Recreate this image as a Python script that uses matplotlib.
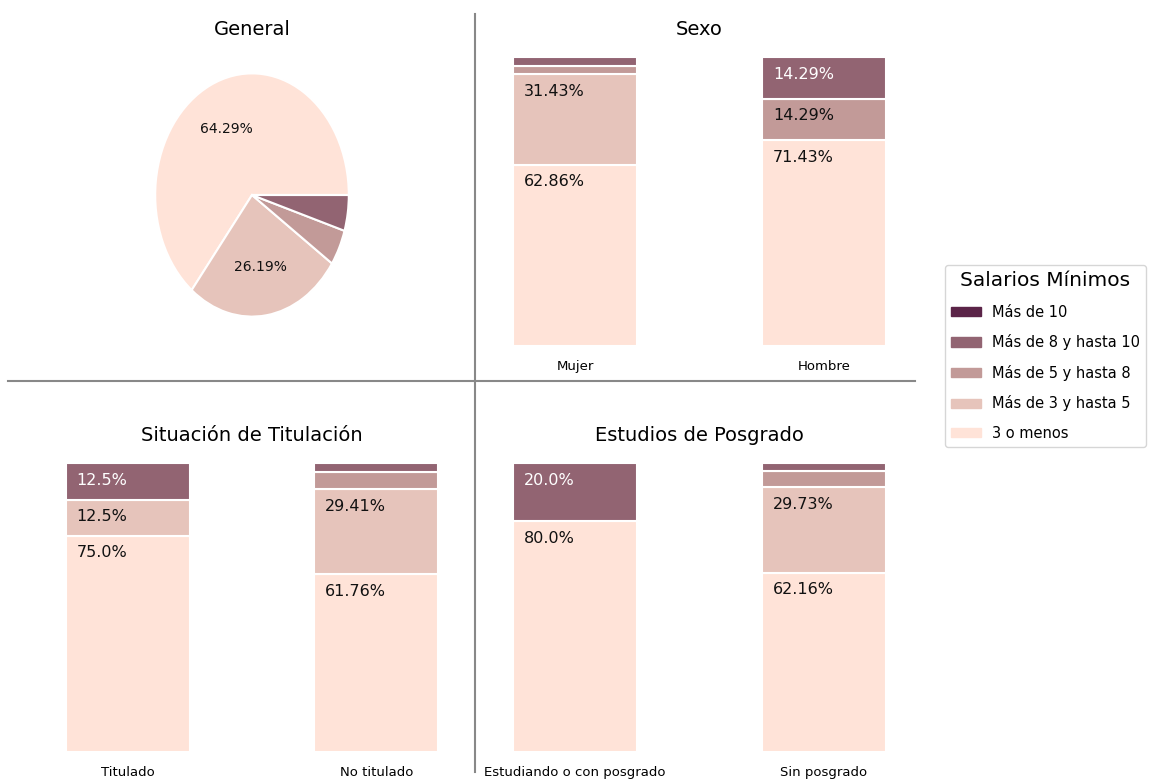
import matplotlib.pyplot as plt
from matplotlib.patches import Patch
from matplotlib.lines import Line2D
import numpy as np

# categorias de salario (de abajo hacia arriba en las barras)
categorias = ['3 o menos', 'Más de 3 y hasta 5', 'Más de 5 y hasta 8',
              'Más de 8 y hasta 10', 'Más de 10']
colores = ['#ffe3d8', '#e6c4bb', '#c29a98', '#926472', '#5b2448']

general = [64.29, 26.19, 4.76, 4.76, 0.0]

sexo_labels = ['Mujer', 'Hombre']
sexo_vals = [[62.86, 31.43, 2.86, 2.86, 0.0],
             [71.43, 0.0, 14.29, 14.29, 0.0]]

titulo_labels = ['Titulado', 'No titulado']
titulo_vals = [[75.0, 12.5, 0.0, 12.5, 0.0],
               [61.76, 29.41, 5.88, 2.94, 0.0]]

posgrado_labels = ['Estudiando o con posgrado', 'Sin posgrado']
posgrado_vals = [[80.0, 0.0, 0.0, 20.0, 0.0],
                 [62.16, 29.73, 5.41, 2.70, 0.0]]

W, H = 1153, 779
fig = plt.figure(figsize=(W / 100, H / 100), dpi=100)


def px(left, top, right, bottom):
    # caja en pixeles -> coordenadas de figura
    return [left / W, 1 - bottom / H, (right - left) / W, (bottom - top) / H]


def barras(ax, labels, vals, titulo):
    x = np.arange(len(labels))
    ancho = 0.5
    for i, serie in enumerate(vals):
        abajo = 0
        for j, v in enumerate(serie):
            if v > 0:
                ax.bar(x[i], v, ancho, bottom=abajo, color=colores[j],
                       edgecolor='white', linewidth=1.5)
                if v >= 10:
                    ax.annotate(f'{round(v, 2)}%', (x[i] - ancho / 2, abajo + v),
                                xytext=(8, -7), textcoords='offset points',
                                ha='left', va='top', fontsize=11.5,
                                color='white' if j >= 3 else '#111111')
            abajo += v
    ax.set_xlim(-0.325, 1.325)
    ax.set_ylim(0, 105)
    ax.set_xticks(x)
    ax.set_xticklabels(labels, fontsize=9.5)
    ax.tick_params(axis='x', length=0, pad=10)
    ax.set_yticks([])
    for s in ax.spines.values():
        s.set_visible(False)
    ax.set_title(titulo, fontsize=14)


# pastel general
ax0 = fig.add_axes(px(131, 43, 373, 347))
ax0.pie(general, colors=colores, startangle=0,
        autopct=lambda p: f'{p:.2f}%' if p > 10 else '',
        textprops={'fontsize': 10, 'color': '#111111'},
        wedgeprops={'edgecolor': 'white', 'linewidth': 1.5})
ax0.set_aspect('auto')
ax0.set_xlim(-1.25, 1.25)
ax0.set_ylim(-1.25, 1.25)
ax0.set_title('General', fontsize=14)

ax1 = fig.add_axes(px(494, 43, 905, 346))
barras(ax1, sexo_labels, sexo_vals, 'Sexo')

ax2 = fig.add_axes(px(47, 449, 457, 752))
barras(ax2, titulo_labels, titulo_vals, 'Situación de Titulación')

ax3 = fig.add_axes(px(494, 449, 905, 752))
barras(ax3, posgrado_labels, posgrado_vals, 'Estudios de Posgrado')

# lineas divisorias
fig.add_artist(Line2D([475 / W, 475 / W], [1 - 772 / H, 1 - 14 / H],
                      color='#888888', linewidth=1.5))
fig.add_artist(Line2D([8 / W, 915 / W], [1 - 381 / H, 1 - 381 / H],
                      color='#888888', linewidth=1.5))

# leyenda
handles = [Patch(color=colores[k], label=categorias[k]) for k in range(4, -1, -1)]
fig.legend(handles=handles, title='Salarios Mínimos', loc='center left',
           bbox_to_anchor=(945 / W, 1 - 356 / H), borderaxespad=0,
           fontsize=10.5, title_fontsize=14.5, labelspacing=1.0,
           handlelength=2.1, handleheight=0.6, handletextpad=0.7,
           borderpad=0.4, frameon=True)

plt.savefig('out.png', dpi=100)
